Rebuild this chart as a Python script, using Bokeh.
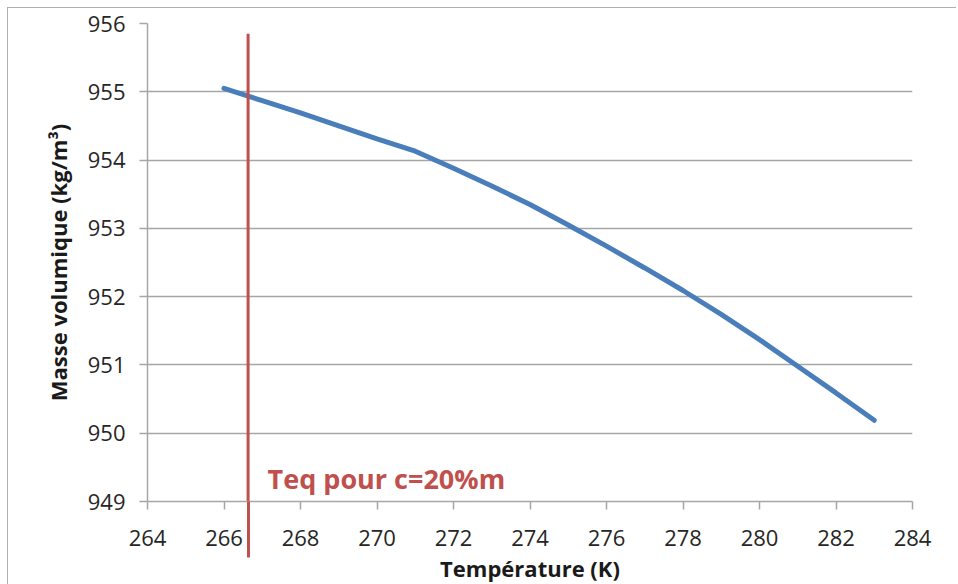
from bokeh.plotting import figure
from bokeh.models import Range1d, FixedTicker, Label
from bokeh.embed import file_html
from bokeh.resources import INLINE

# Data
temperature_K = [266, 267, 268, 269, 270, 271, 272, 273, 274, 275,
                 276, 277, 278, 279, 280, 281, 282, 283]
masse_volumique = [955.05, 954.87, 954.69, 954.50, 954.31, 954.13, 953.88, 953.62,
                   953.35, 953.05, 952.74, 952.42, 952.09, 951.74, 951.37, 950.98,
                   950.59, 950.19]
teq_temperature = 266.63
teq_line_top = 955.85
teq_label = "Teq pour c=20%m"
x_ticks = [264, 266, 268, 270, 272, 274, 276, 278, 280, 282, 284]
y_ticks = [949, 950, 951, 952, 953, 954, 955, 956]
y_min, y_max = 949, 956

FONT = "Open Sans"
GRID = "#a6a6a6"
BLUE = "#4a7ebb"
RED = "#c0504d"

p = figure(frame_width=765, frame_height=478,
           min_border_left=139, min_border_right=44,
           min_border_top=15, min_border_bottom=78,
           x_range=Range1d(264, 284), y_range=Range1d(y_min, y_max),
           output_backend="svg", toolbar_location=None)
p.styles = {"margin-left": "7px", "margin-top": "7px",
            "border-left": "1.5px solid #b0b0b0", "border-top": "1.5px solid #b0b0b0"}
p.outline_line_color = None
p.background_fill_color = "white"
p.border_fill_color = "white"

p.xgrid.visible = False
p.ygrid.ticker = FixedTicker(ticks=y_ticks)
p.ygrid.grid_line_color = GRID
p.ygrid.grid_line_width = 1.5

# the Teq marker continues below the x axis: drawn as the axis' one minor tick
p.xaxis.ticker = FixedTicker(ticks=x_ticks, minor_ticks=[teq_temperature])
p.yaxis.ticker = FixedTicker(ticks=y_ticks)
for ax in (p.xaxis[0], p.yaxis[0]):
    ax.axis_line_color = GRID
    ax.axis_line_width = 1.5
    ax.major_tick_line_color = GRID
    ax.major_tick_line_width = 1.5
    ax.major_tick_out = 8
    ax.major_tick_in = 0
    ax.minor_tick_line_color = None
    ax.major_label_text_font = FONT
    ax.major_label_text_font_size = "22px"
    ax.major_label_text_color = "#262626"
    ax.axis_label_text_font = FONT
    ax.axis_label_text_font_style = "bold"
    ax.axis_label_text_font_size = "22px"
    ax.axis_label_text_color = "#1a1a1a"

p.xaxis.minor_tick_line_color = RED
p.xaxis.minor_tick_line_width = 3
p.xaxis.minor_tick_in = 0
p.xaxis.minor_tick_out = 56

p.xaxis.axis_label = "Température (K)"
p.yaxis.axis_label = "Masse volumique (kg/m³)"
p.xaxis.major_label_standoff = -28
p.xaxis.axis_label_standoff = 4
p.yaxis.major_label_standoff = 14
p.yaxis.axis_label_standoff = 12

p.line(temperature_K, masse_volumique, line_color=BLUE, line_width=5, line_cap="round")

p.segment(x0=[teq_temperature], y0=[teq_line_top], x1=[teq_temperature], y1=[y_min],
          line_color=RED, line_width=3)

p.add_layout(Label(x=267.14, y=949.34, text=teq_label, text_font=FONT,
                   text_font_style="bold", text_font_size="27px",
                   text_color=RED, text_baseline="alphabetic"))

open("out.html", "w").write(file_html(p, INLINE))
